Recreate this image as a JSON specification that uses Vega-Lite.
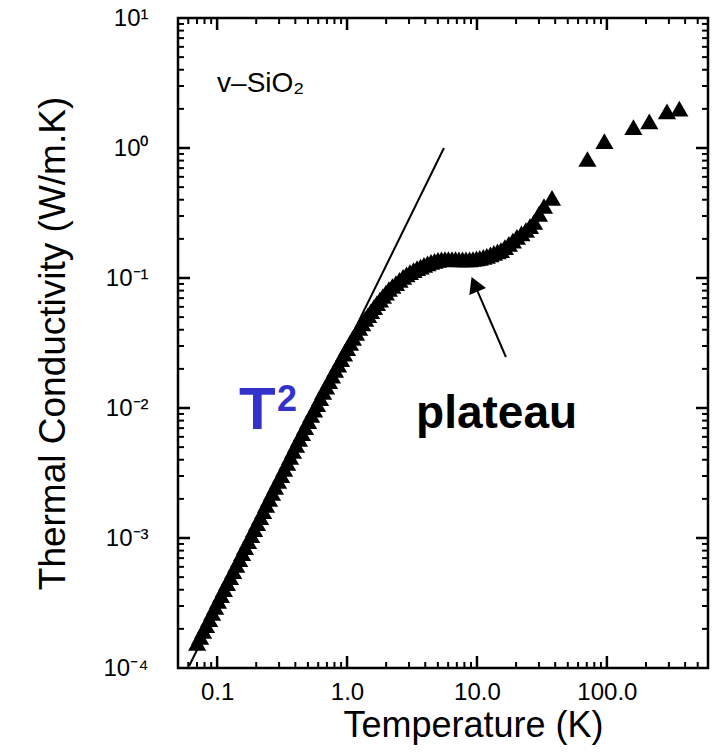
{
  "$schema": "https://vega.github.io/schema/vega-lite/v6.json",
  "width": 530,
  "height": 650,
  "autosize": {"type": "none"},
  "padding": {"left": 178, "top": 18, "right": 20, "bottom": 87},
  "background": "white",
  "config": {
    "view": {"stroke": "black", "strokeWidth": 2.5},
    "font": "Liberation Sans"
  },
  "resolve": {"scale": {"x": "independent", "y": "independent"}},
  "layer": [
    {
      "data": {"values": [
        {"T": 0.0702, "k": 0.000156}, {"T": 0.074, "k": 0.0001735}, {"T": 0.078, "k": 0.000193}, {"T": 0.0823, "k": 0.000214},
        {"T": 0.0868, "k": 0.000238}, {"T": 0.0915, "k": 0.000265}, {"T": 0.0965, "k": 0.000295}, {"T": 0.1016, "k": 0.000328},
        {"T": 0.107, "k": 0.000364}, {"T": 0.1128, "k": 0.000405}, {"T": 0.119, "k": 0.00045}, {"T": 0.1258, "k": 0.000501},
        {"T": 0.133, "k": 0.000557}, {"T": 0.1403, "k": 0.00062}, {"T": 0.148, "k": 0.000689}, {"T": 0.1558, "k": 0.000766},
        {"T": 0.164, "k": 0.000852}, {"T": 0.1732, "k": 0.000946}, {"T": 0.183, "k": 0.00105}, {"T": 0.1927, "k": 0.00117},
        {"T": 0.203, "k": 0.0013}, {"T": 0.2142, "k": 0.00145}, {"T": 0.226, "k": 0.00161}, {"T": 0.2382, "k": 0.0018},
        {"T": 0.251, "k": 0.002}, {"T": 0.2646, "k": 0.00222}, {"T": 0.279, "k": 0.00247}, {"T": 0.2946, "k": 0.00275},
        {"T": 0.311, "k": 0.00305}, {"T": 0.328, "k": 0.0034}, {"T": 0.346, "k": 0.00378}, {"T": 0.3645, "k": 0.0042},
        {"T": 0.384, "k": 0.00467}, {"T": 0.405, "k": 0.0052}, {"T": 0.427, "k": 0.00578}, {"T": 0.4504, "k": 0.00642},
        {"T": 0.475, "k": 0.00714}, {"T": 0.5013, "k": 0.00794}, {"T": 0.529, "k": 0.00884}, {"T": 0.5577, "k": 0.00972},
        {"T": 0.588, "k": 0.0107}, {"T": 0.62, "k": 0.0119}, {"T": 0.654, "k": 0.0133}, {"T": 0.6895, "k": 0.01463},
        {"T": 0.727, "k": 0.0161}, {"T": 0.7664, "k": 0.01776}, {"T": 0.808, "k": 0.0196}, {"T": 0.8523, "k": 0.0216},
        {"T": 0.899, "k": 0.0238}, {"T": 0.948, "k": 0.02623}, {"T": 1.0, "k": 0.0289}, {"T": 1.054, "k": 0.03162},
        {"T": 1.11, "k": 0.0346}, {"T": 1.173, "k": 0.0378}, {"T": 1.24, "k": 0.0413}, {"T": 1.308, "k": 0.0447},
        {"T": 1.38, "k": 0.0484}, {"T": 1.453, "k": 0.0519}, {"T": 1.53, "k": 0.0557}, {"T": 1.613, "k": 0.0598},
        {"T": 1.7, "k": 0.0642}, {"T": 1.793, "k": 0.0683}, {"T": 1.89, "k": 0.0727}, {"T": 1.992, "k": 0.0773},
        {"T": 2.1, "k": 0.0823}, {"T": 2.236, "k": 0.0868}, {"T": 2.38, "k": 0.0915}, {"T": 2.535, "k": 0.0966},
        {"T": 2.7, "k": 0.102}, {"T": 2.87, "k": 0.1065}, {"T": 3.05, "k": 0.111}, {"T": 3.249, "k": 0.1149},
        {"T": 3.46, "k": 0.119}, {"T": 3.678, "k": 0.1225}, {"T": 3.91, "k": 0.126}, {"T": 4.162, "k": 0.1294},
        {"T": 4.43, "k": 0.133}, {"T": 4.711, "k": 0.1355}, {"T": 5.01, "k": 0.138}, {"T": 5.33, "k": 0.139},
        {"T": 5.67, "k": 0.14}, {"T": 6.03, "k": 0.14}, {"T": 6.42, "k": 0.14}, {"T": 6.83, "k": 0.14},
        {"T": 7.27, "k": 0.139}, {"T": 7.74, "k": 0.139}, {"T": 8.23, "k": 0.139}, {"T": 8.76, "k": 0.139},
        {"T": 9.32, "k": 0.14}, {"T": 9.9, "k": 0.1415}, {"T": 10.5, "k": 0.143}, {"T": 11.2, "k": 0.1455},
        {"T": 11.9, "k": 0.148}, {"T": 12.7, "k": 0.152}, {"T": 13.5, "k": 0.156}, {"T": 14.4, "k": 0.16},
        {"T": 15.3, "k": 0.164}, {"T": 16.4, "k": 0.173}, {"T": 17.6, "k": 0.183}, {"T": 18.9, "k": 0.194},
        {"T": 20.3, "k": 0.207}, {"T": 22.0, "k": 0.22}, {"T": 23.8, "k": 0.234}, {"T": 25.6, "k": 0.251},
        {"T": 27.5, "k": 0.27}, {"T": 30.0, "k": 0.311}, {"T": 32.8, "k": 0.358}, {"T": 37.8, "k": 0.413},
        {"T": 70.8, "k": 0.823}, {"T": 95.7, "k": 1.13}, {"T": 160, "k": 1.45}, {"T": 212, "k": 1.6},
        {"T": 290, "k": 1.91}, {"T": 361, "k": 2.01}
      ]},
      "mark": {"type": "point", "shape": "triangle-up", "filled": true, "color": "black", "opacity": 1, "size": 330, "strokeWidth": 0},
      "encoding": {
        "x": {
          "field": "T", "type": "quantitative",
          "scale": {"type": "log", "domain": [0.05, 600], "nice": false},
          "axis": {
            "orient": "bottom",
            "title": "Temperature (K)",
            "values": [0.1, 1, 10, 100],
            "labelExpr": "datum.value == 0.1 ? '0.1' : datum.value == 1 ? '1.0' : datum.value == 10 ? '10.0' : '100.0'",
            "ticks": false,
            "domain": false, "grid": false,
            "labelFont": "Liberation Sans", "labelFontSize": 24, "labelColor": "black", "labelPadding": 12,
            "labelFlush": false, "labelOverlap": false, "labelBound": false,
            "titleFont": "Liberation Sans", "titleFontSize": 36, "titleFontWeight": "normal", "titleColor": "black", "titlePadding": 4, "titleX": 295
          }
        },
        "y": {
          "field": "k", "type": "quantitative",
          "scale": {"type": "log", "domain": [0.0001, 10], "nice": false},
          "axis": {
            "orient": "left",
            "title": "Thermal Conductivity (W/m.K)",
            "values": [0.0001, 0.001, 0.01, 0.1, 1, 10],
            "labelExpr": "datum.value == 10 ? '10¹' : datum.value == 1 ? '10⁰' : datum.value == 0.1 ? '10⁻¹' : datum.value == 0.01 ? '10⁻²' : datum.value == 0.001 ? '10⁻³' : '10⁻⁴'",
            "ticks": false,
            "domain": false, "grid": false,
            "labelFont": "Liberation Sans", "labelFontSize": 24, "labelColor": "black", "labelPadding": 30,
            "labelFlush": false, "labelOverlap": false, "labelBound": false,
            "titleFont": "Liberation Sans", "titleFontSize": 37, "titleFontWeight": "normal", "titleColor": "black", "titlePadding": 30
          }
        }
      }
    },
    {
      "data": {"values": [{"T": 0.0609, "k": 0.0001035}, {"T": 5.57, "k": 1.0}]},
      "mark": {"type": "line", "color": "black", "strokeWidth": 2},
      "encoding": {
        "x": {"field": "T", "type": "quantitative", "scale": {"type": "log", "domain": [0.05, 600], "nice": false}, "axis": null},
        "y": {"field": "k", "type": "quantitative", "scale": {"type": "log", "domain": [0.0001, 10], "nice": false}, "axis": null}
      }
    },
    {
      "data": {"values": [{"T": 0.1, "k": 2.7, "label": "v–SiO₂"}]},
      "mark": {"type": "text", "align": "left", "baseline": "alphabetic", "font": "Liberation Sans", "fontSize": 28, "color": "black"},
      "encoding": {
        "x": {"field": "T", "type": "quantitative", "scale": {"type": "log", "domain": [0.05, 600], "nice": false}, "axis": null},
        "y": {"field": "k", "type": "quantitative", "scale": {"type": "log", "domain": [0.0001, 10], "nice": false}, "axis": null},
        "text": {"field": "label"}
      }
    },
    {
      "data": {"values": [{"T": 3.4, "k": 0.00702, "label": "plateau"}]},
      "mark": {"type": "text", "align": "left", "baseline": "alphabetic", "font": "Liberation Sans", "fontSize": 46, "fontWeight": "bold", "color": "black"},
      "encoding": {
        "x": {"field": "T", "type": "quantitative", "scale": {"type": "log", "domain": [0.05, 600], "nice": false}, "axis": null},
        "y": {"field": "k", "type": "quantitative", "scale": {"type": "log", "domain": [0.0001, 10], "nice": false}, "axis": null},
        "text": {"field": "label"}
      }
    },
    {
      "data": {"values": [{"T": 0.1476, "k": 0.0069, "label": "T"}]},
      "mark": {"type": "text", "align": "left", "baseline": "alphabetic", "font": "Liberation Sans", "fontSize": 60, "fontWeight": "bold", "color": "#3333CC"},
      "encoding": {
        "x": {"field": "T", "type": "quantitative", "scale": {"type": "log", "domain": [0.05, 600], "nice": false}, "axis": null},
        "y": {"field": "k", "type": "quantitative", "scale": {"type": "log", "domain": [0.0001, 10], "nice": false}, "axis": null},
        "text": {"field": "label"}
      }
    },
    {
      "data": {"values": [{"T": 0.2894, "k": 0.00948, "label": "2"}]},
      "mark": {"type": "text", "align": "left", "baseline": "alphabetic", "font": "Liberation Sans", "fontSize": 36, "fontWeight": "bold", "color": "#3333CC"},
      "encoding": {
        "x": {"field": "T", "type": "quantitative", "scale": {"type": "log", "domain": [0.05, 600], "nice": false}, "axis": null},
        "y": {"field": "k", "type": "quantitative", "scale": {"type": "log", "domain": [0.0001, 10], "nice": false}, "axis": null},
        "text": {"field": "label"}
      }
    },
    {
      "data": {"values": [{"T": 16.7, "k": 0.02467, "T2": 10.0, "k2": 0.0809}]},
      "mark": {"type": "rule", "color": "black", "strokeWidth": 2},
      "encoding": {
        "x": {"field": "T", "type": "quantitative", "scale": {"type": "log", "domain": [0.05, 600], "nice": false}, "axis": null},
        "y": {"field": "k", "type": "quantitative", "scale": {"type": "log", "domain": [0.0001, 10], "nice": false}, "axis": null},
        "x2": {"field": "T2"},
        "y2": {"field": "k2"}
      }
    },
    {
      "data": {"values": [{"T": 9.59, "k": 0.0894}]},
      "mark": {"type": "point", "shape": "triangle-up", "filled": true, "color": "black", "opacity": 1, "size": 330, "angle": 337, "strokeWidth": 0},
      "encoding": {
        "x": {"field": "T", "type": "quantitative", "scale": {"type": "log", "domain": [0.05, 600], "nice": false}, "axis": null},
        "y": {"field": "k", "type": "quantitative", "scale": {"type": "log", "domain": [0.0001, 10], "nice": false}, "axis": null}
      }
    },
    {
      "data": {"values": [
        {"T": 0.1, "k": 0.0001, "T2": 0.1, "k2": 0.0001237}, {"T": 1, "k": 0.0001, "T2": 1, "k2": 0.0001237},
        {"T": 10, "k": 0.0001, "T2": 10, "k2": 0.0001237}, {"T": 100, "k": 0.0001, "T2": 100, "k2": 0.0001237},
        {"T": 0.1, "k": 10, "T2": 0.1, "k2": 8.084}, {"T": 1, "k": 10, "T2": 1, "k2": 8.084},
        {"T": 10, "k": 10, "T2": 10, "k2": 8.084}, {"T": 100, "k": 10, "T2": 100, "k2": 8.084},
        {"T": 0.05, "k": 0.001, "T2": 0.06185, "k2": 0.001}, {"T": 0.05, "k": 0.01, "T2": 0.06185, "k2": 0.01},
        {"T": 0.05, "k": 0.1, "T2": 0.06185, "k2": 0.1}, {"T": 0.05, "k": 1, "T2": 0.06185, "k2": 1},
        {"T": 600, "k": 0.001, "T2": 485, "k2": 0.001}, {"T": 600, "k": 0.01, "T2": 485, "k2": 0.01},
        {"T": 600, "k": 0.1, "T2": 485, "k2": 0.1}, {"T": 600, "k": 1, "T2": 485, "k2": 1}
      ]},
      "mark": {"type": "rule", "color": "black", "strokeWidth": 2.5},
      "encoding": {
        "x": {"field": "T", "type": "quantitative", "scale": {"type": "log", "domain": [0.05, 600], "nice": false}, "axis": null},
        "y": {"field": "k", "type": "quantitative", "scale": {"type": "log", "domain": [0.0001, 10], "nice": false}, "axis": null},
        "x2": {"field": "T2"},
        "y2": {"field": "k2"}
      }
    },
    {
      "data": {"values": [
        {"T": 0.06, "k": 0.0001, "T2": 0.06, "k2": 0.0001112}, {"T": 0.07, "k": 0.0001, "T2": 0.07, "k2": 0.0001112},
        {"T": 0.08, "k": 0.0001, "T2": 0.08, "k2": 0.0001112}, {"T": 0.09, "k": 0.0001, "T2": 0.09, "k2": 0.0001112},
        {"T": 0.2, "k": 0.0001, "T2": 0.2, "k2": 0.0001112}, {"T": 0.3, "k": 0.0001, "T2": 0.3, "k2": 0.0001112},
        {"T": 0.4, "k": 0.0001, "T2": 0.4, "k2": 0.0001112}, {"T": 0.5, "k": 0.0001, "T2": 0.5, "k2": 0.0001112},
        {"T": 0.6, "k": 0.0001, "T2": 0.6, "k2": 0.0001112}, {"T": 0.7, "k": 0.0001, "T2": 0.7, "k2": 0.0001112},
        {"T": 0.8, "k": 0.0001, "T2": 0.8, "k2": 0.0001112}, {"T": 0.9, "k": 0.0001, "T2": 0.9, "k2": 0.0001112},
        {"T": 2, "k": 0.0001, "T2": 2, "k2": 0.0001112}, {"T": 3, "k": 0.0001, "T2": 3, "k2": 0.0001112},
        {"T": 4, "k": 0.0001, "T2": 4, "k2": 0.0001112}, {"T": 5, "k": 0.0001, "T2": 5, "k2": 0.0001112},
        {"T": 6, "k": 0.0001, "T2": 6, "k2": 0.0001112}, {"T": 7, "k": 0.0001, "T2": 7, "k2": 0.0001112},
        {"T": 8, "k": 0.0001, "T2": 8, "k2": 0.0001112}, {"T": 9, "k": 0.0001, "T2": 9, "k2": 0.0001112},
        {"T": 20, "k": 0.0001, "T2": 20, "k2": 0.0001112}, {"T": 30, "k": 0.0001, "T2": 30, "k2": 0.0001112},
        {"T": 40, "k": 0.0001, "T2": 40, "k2": 0.0001112}, {"T": 50, "k": 0.0001, "T2": 50, "k2": 0.0001112},
        {"T": 60, "k": 0.0001, "T2": 60, "k2": 0.0001112}, {"T": 70, "k": 0.0001, "T2": 70, "k2": 0.0001112},
        {"T": 80, "k": 0.0001, "T2": 80, "k2": 0.0001112}, {"T": 90, "k": 0.0001, "T2": 90, "k2": 0.0001112},
        {"T": 200, "k": 0.0001, "T2": 200, "k2": 0.0001112}, {"T": 300, "k": 0.0001, "T2": 300, "k2": 0.0001112},
        {"T": 400, "k": 0.0001, "T2": 400, "k2": 0.0001112}, {"T": 500, "k": 0.0001, "T2": 500, "k2": 0.0001112},
        {"T": 0.06, "k": 10, "T2": 0.06, "k2": 8.992}, {"T": 0.07, "k": 10, "T2": 0.07, "k2": 8.992},
        {"T": 0.08, "k": 10, "T2": 0.08, "k2": 8.992}, {"T": 0.09, "k": 10, "T2": 0.09, "k2": 8.992},
        {"T": 0.2, "k": 10, "T2": 0.2, "k2": 8.992}, {"T": 0.3, "k": 10, "T2": 0.3, "k2": 8.992},
        {"T": 0.4, "k": 10, "T2": 0.4, "k2": 8.992}, {"T": 0.5, "k": 10, "T2": 0.5, "k2": 8.992},
        {"T": 0.6, "k": 10, "T2": 0.6, "k2": 8.992}, {"T": 0.7, "k": 10, "T2": 0.7, "k2": 8.992},
        {"T": 0.8, "k": 10, "T2": 0.8, "k2": 8.992}, {"T": 0.9, "k": 10, "T2": 0.9, "k2": 8.992},
        {"T": 2, "k": 10, "T2": 2, "k2": 8.992}, {"T": 3, "k": 10, "T2": 3, "k2": 8.992},
        {"T": 4, "k": 10, "T2": 4, "k2": 8.992}, {"T": 5, "k": 10, "T2": 5, "k2": 8.992},
        {"T": 6, "k": 10, "T2": 6, "k2": 8.992}, {"T": 7, "k": 10, "T2": 7, "k2": 8.992},
        {"T": 8, "k": 10, "T2": 8, "k2": 8.992}, {"T": 9, "k": 10, "T2": 9, "k2": 8.992},
        {"T": 20, "k": 10, "T2": 20, "k2": 8.992}, {"T": 30, "k": 10, "T2": 30, "k2": 8.992},
        {"T": 40, "k": 10, "T2": 40, "k2": 8.992}, {"T": 50, "k": 10, "T2": 50, "k2": 8.992},
        {"T": 60, "k": 10, "T2": 60, "k2": 8.992}, {"T": 70, "k": 10, "T2": 70, "k2": 8.992},
        {"T": 80, "k": 10, "T2": 80, "k2": 8.992}, {"T": 90, "k": 10, "T2": 90, "k2": 8.992},
        {"T": 200, "k": 10, "T2": 200, "k2": 8.992}, {"T": 300, "k": 10, "T2": 300, "k2": 8.992},
        {"T": 400, "k": 10, "T2": 400, "k2": 8.992}, {"T": 500, "k": 10, "T2": 500, "k2": 8.992},
        {"T": 0.05, "k": 0.0002, "T2": 0.0556, "k2": 0.0002}, {"T": 0.05, "k": 0.0003, "T2": 0.0556, "k2": 0.0003},
        {"T": 0.05, "k": 0.0004, "T2": 0.0556, "k2": 0.0004}, {"T": 0.05, "k": 0.0005, "T2": 0.0556, "k2": 0.0005},
        {"T": 0.05, "k": 0.0006, "T2": 0.0556, "k2": 0.0006}, {"T": 0.05, "k": 0.0007, "T2": 0.0556, "k2": 0.0007},
        {"T": 0.05, "k": 0.0008, "T2": 0.0556, "k2": 0.0008}, {"T": 0.05, "k": 0.0009, "T2": 0.0556, "k2": 0.0009},
        {"T": 0.05, "k": 0.002, "T2": 0.0556, "k2": 0.002}, {"T": 0.05, "k": 0.003, "T2": 0.0556, "k2": 0.003},
        {"T": 0.05, "k": 0.004, "T2": 0.0556, "k2": 0.004}, {"T": 0.05, "k": 0.005, "T2": 0.0556, "k2": 0.005},
        {"T": 0.05, "k": 0.006, "T2": 0.0556, "k2": 0.006}, {"T": 0.05, "k": 0.007, "T2": 0.0556, "k2": 0.007},
        {"T": 0.05, "k": 0.008, "T2": 0.0556, "k2": 0.008}, {"T": 0.05, "k": 0.009, "T2": 0.0556, "k2": 0.009},
        {"T": 0.05, "k": 0.02, "T2": 0.0556, "k2": 0.02}, {"T": 0.05, "k": 0.03, "T2": 0.0556, "k2": 0.03},
        {"T": 0.05, "k": 0.04, "T2": 0.0556, "k2": 0.04}, {"T": 0.05, "k": 0.05, "T2": 0.0556, "k2": 0.05},
        {"T": 0.05, "k": 0.06, "T2": 0.0556, "k2": 0.06}, {"T": 0.05, "k": 0.07, "T2": 0.0556, "k2": 0.07},
        {"T": 0.05, "k": 0.08, "T2": 0.0556, "k2": 0.08}, {"T": 0.05, "k": 0.09, "T2": 0.0556, "k2": 0.09},
        {"T": 0.05, "k": 0.2, "T2": 0.0556, "k2": 0.2}, {"T": 0.05, "k": 0.3, "T2": 0.0556, "k2": 0.3},
        {"T": 0.05, "k": 0.4, "T2": 0.0556, "k2": 0.4}, {"T": 0.05, "k": 0.5, "T2": 0.0556, "k2": 0.5},
        {"T": 0.05, "k": 0.6, "T2": 0.0556, "k2": 0.6}, {"T": 0.05, "k": 0.7, "T2": 0.0556, "k2": 0.7},
        {"T": 0.05, "k": 0.8, "T2": 0.0556, "k2": 0.8}, {"T": 0.05, "k": 0.9, "T2": 0.0556, "k2": 0.9},
        {"T": 0.05, "k": 2, "T2": 0.0556, "k2": 2}, {"T": 0.05, "k": 3, "T2": 0.0556, "k2": 3},
        {"T": 0.05, "k": 4, "T2": 0.0556, "k2": 4}, {"T": 0.05, "k": 5, "T2": 0.0556, "k2": 5},
        {"T": 0.05, "k": 6, "T2": 0.0556, "k2": 6}, {"T": 0.05, "k": 7, "T2": 0.0556, "k2": 7},
        {"T": 0.05, "k": 8, "T2": 0.0556, "k2": 8}, {"T": 0.05, "k": 9, "T2": 0.0556, "k2": 9},
        {"T": 600, "k": 0.0002, "T2": 539.5, "k2": 0.0002}, {"T": 600, "k": 0.0003, "T2": 539.5, "k2": 0.0003},
        {"T": 600, "k": 0.0004, "T2": 539.5, "k2": 0.0004}, {"T": 600, "k": 0.0005, "T2": 539.5, "k2": 0.0005},
        {"T": 600, "k": 0.0006, "T2": 539.5, "k2": 0.0006}, {"T": 600, "k": 0.0007, "T2": 539.5, "k2": 0.0007},
        {"T": 600, "k": 0.0008, "T2": 539.5, "k2": 0.0008}, {"T": 600, "k": 0.0009, "T2": 539.5, "k2": 0.0009},
        {"T": 600, "k": 0.002, "T2": 539.5, "k2": 0.002}, {"T": 600, "k": 0.003, "T2": 539.5, "k2": 0.003},
        {"T": 600, "k": 0.004, "T2": 539.5, "k2": 0.004}, {"T": 600, "k": 0.005, "T2": 539.5, "k2": 0.005},
        {"T": 600, "k": 0.006, "T2": 539.5, "k2": 0.006}, {"T": 600, "k": 0.007, "T2": 539.5, "k2": 0.007},
        {"T": 600, "k": 0.008, "T2": 539.5, "k2": 0.008}, {"T": 600, "k": 0.009, "T2": 539.5, "k2": 0.009},
        {"T": 600, "k": 0.02, "T2": 539.5, "k2": 0.02}, {"T": 600, "k": 0.03, "T2": 539.5, "k2": 0.03},
        {"T": 600, "k": 0.04, "T2": 539.5, "k2": 0.04}, {"T": 600, "k": 0.05, "T2": 539.5, "k2": 0.05},
        {"T": 600, "k": 0.06, "T2": 539.5, "k2": 0.06}, {"T": 600, "k": 0.07, "T2": 539.5, "k2": 0.07},
        {"T": 600, "k": 0.08, "T2": 539.5, "k2": 0.08}, {"T": 600, "k": 0.09, "T2": 539.5, "k2": 0.09},
        {"T": 600, "k": 0.2, "T2": 539.5, "k2": 0.2}, {"T": 600, "k": 0.3, "T2": 539.5, "k2": 0.3},
        {"T": 600, "k": 0.4, "T2": 539.5, "k2": 0.4}, {"T": 600, "k": 0.5, "T2": 539.5, "k2": 0.5},
        {"T": 600, "k": 0.6, "T2": 539.5, "k2": 0.6}, {"T": 600, "k": 0.7, "T2": 539.5, "k2": 0.7},
        {"T": 600, "k": 0.8, "T2": 539.5, "k2": 0.8}, {"T": 600, "k": 0.9, "T2": 539.5, "k2": 0.9},
        {"T": 600, "k": 2, "T2": 539.5, "k2": 2}, {"T": 600, "k": 3, "T2": 539.5, "k2": 3},
        {"T": 600, "k": 4, "T2": 539.5, "k2": 4}, {"T": 600, "k": 5, "T2": 539.5, "k2": 5},
        {"T": 600, "k": 6, "T2": 539.5, "k2": 6}, {"T": 600, "k": 7, "T2": 539.5, "k2": 7},
        {"T": 600, "k": 8, "T2": 539.5, "k2": 8}, {"T": 600, "k": 9, "T2": 539.5, "k2": 9}
      ]},
      "mark": {"type": "rule", "color": "black", "strokeWidth": 2},
      "encoding": {
        "x": {"field": "T", "type": "quantitative", "scale": {"type": "log", "domain": [0.05, 600], "nice": false}, "axis": null},
        "y": {"field": "k", "type": "quantitative", "scale": {"type": "log", "domain": [0.0001, 10], "nice": false}, "axis": null},
        "x2": {"field": "T2"},
        "y2": {"field": "k2"}
      }
    }
  ]
}
